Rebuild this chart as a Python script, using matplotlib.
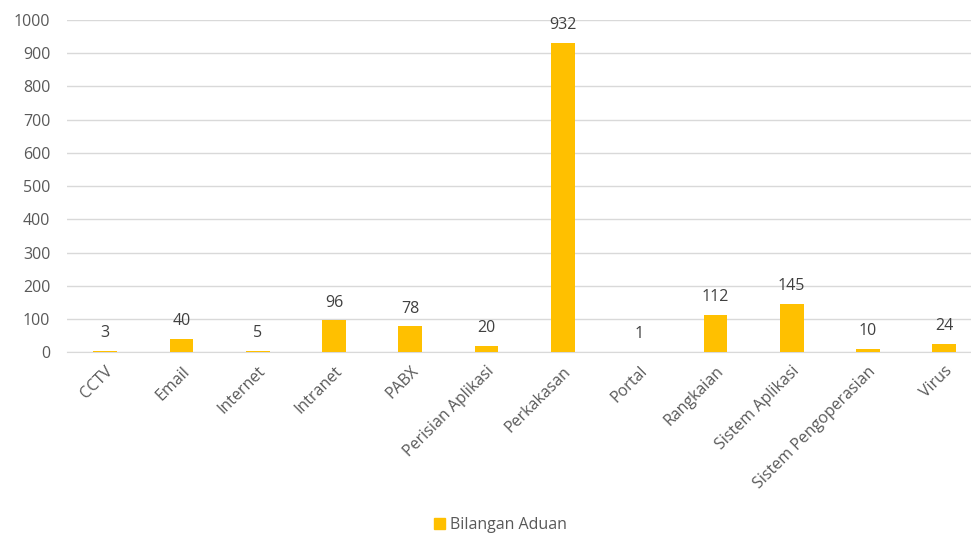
import matplotlib
matplotlib.use('Agg')
from matplotlib import pyplot as plt
from matplotlib.patches import Patch

categories = ['CCTV', 'Email', 'Internet', 'Intranet', 'PABX', 'Perisian Aplikasi',
              'Perkakasan', 'Portal', 'Rangkaian', 'Sistem Aplikasi',
              'Sistem Pengoperasian', 'Virus']
values = [3, 40, 5, 96, 78, 20, 932, 1, 112, 145, 10, 24]
series_name = 'Bilangan Aduan'

plt.rcParams['font.family'] = ['Open Sans', 'DejaVu Sans']
text_col = '#595959'
bar_col = '#FFC000'

fig = plt.figure(figsize=(9.71, 5.41), dpi=100)
ax = fig.add_axes([0.069, 0.349, 0.931, 0.614])

x = list(range(len(categories)))
ax.bar(x, values, width=0.31, color=bar_col, zorder=3)
for xi, v in zip(x, values):
    ax.annotate(str(v), (xi, v), xytext=(0, 7), textcoords='offset points',
                ha='center', va='bottom', fontsize=11.5, color='#404040')

ax.set_ylim(0, 1000)
ax.set_xlim(-0.5, 11.35)
ax.set_yticks(range(0, 1001, 100))
ax.set_xticks(x)
ax.set_xticklabels(categories, rotation=45, ha='right', rotation_mode='anchor')
ax.tick_params(axis='both', length=0, labelsize=11.5, labelcolor=text_col)
ax.tick_params(axis='y', pad=12)
ax.tick_params(axis='x', pad=8)
ax.grid(axis='y', color='#D9D9D9', linewidth=1, zorder=0)
for s in ['top', 'right', 'left']:
    ax.spines[s].set_visible(False)
ax.spines['bottom'].set_color('#D9D9D9')

fig.legend(handles=[Patch(color=bar_col, label=series_name)], loc='lower center',
           bbox_to_anchor=(0.515, -0.012), frameon=False, fontsize=11.5,
           handlelength=0.7, handleheight=0.7, handletextpad=0.3,
           labelcolor=text_col)

fig.savefig('out.png', dpi=100)
